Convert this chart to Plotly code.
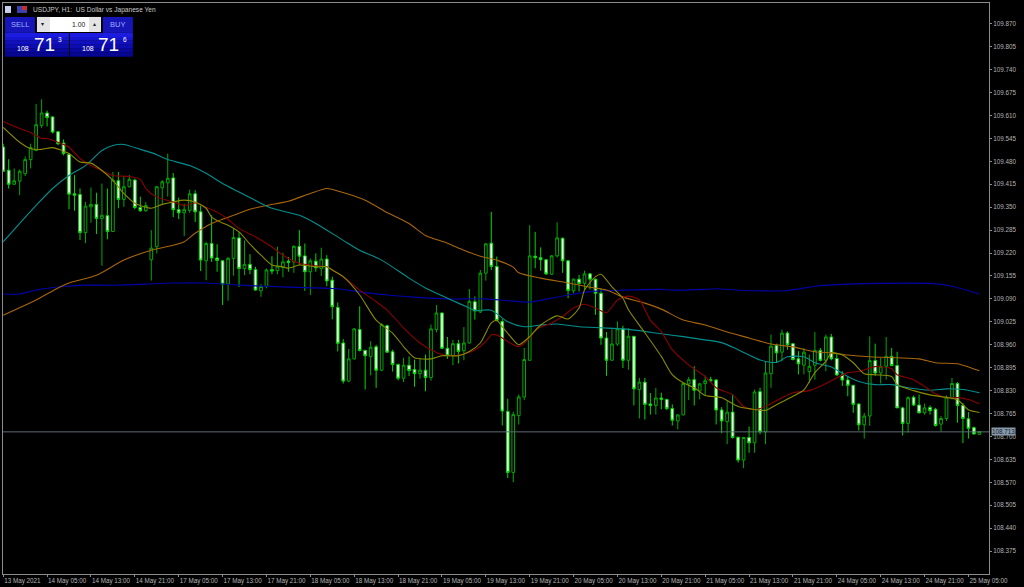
import plotly.graph_objects as go

opens = [
109.521,109.455,109.415,109.424,109.445,109.485,109.511,109.582,109.617,109.606,109.564,109.532,109.500,109.388,109.386,109.278,
109.351,109.358,109.318,109.326,109.281,109.425,109.372,109.408,109.427,109.349,109.340,109.201,109.238,109.405,109.419,
109.433,109.343,109.334,109.341,109.388,109.337,109.198,109.247,109.206,109.198,109.132,109.205,109.263,109.176,109.188,109.173,
109.113,109.125,109.173,109.170,109.179,109.197,109.195,109.239,109.212,109.167,109.197,109.176,109.203,109.143,109.066,
108.965,108.857,108.920,109.003,108.944,108.927,108.954,108.888,109.014,108.940,108.904,108.865,108.902,108.890,108.878,108.888,
108.867,109.003,109.050,108.950,108.929,108.963,108.943,108.965,109.082,109.053,109.163,109.248,109.182,109.026,108.771,
108.598,108.759,108.812,108.916,109.211,109.207,109.201,109.160,109.212,109.262,109.198,109.113,109.146,109.134,109.161,109.146,
109.106,108.979,108.916,108.962,109.005,108.916,108.984,108.833,108.854,108.792,108.788,
108.809,108.805,108.779,108.744,108.761,108.849,108.861,108.829,108.850,108.861,108.860,108.775,108.742,108.769,108.698,108.633,
108.697,108.682,108.827,108.713,108.878,108.958,108.939,108.993,108.963,108.920,108.902,108.884,108.902,108.944,108.916,
108.982,108.921,108.874,108.860,108.845,108.792,108.733,108.758,108.915,108.880,108.899,108.927,108.901,108.781,108.737,108.811,
108.789,108.767,108.782,108.777,108.735,108.751,108.810,108.850,108.788,108.750,108.725,108.706]

closes = [
109.452,109.415,109.425,109.452,109.485,109.519,109.584,109.617,109.604,109.563,109.530,109.502,109.387,109.384,109.278,109.353,
109.358,109.318,109.327,109.281,109.427,109.372,109.408,109.429,109.349,109.340,109.355,109.234,109.408,109.422,109.432,
109.343,109.334,109.343,109.388,109.337,109.200,109.247,109.206,109.199,109.132,109.205,109.264,109.176,109.188,109.173,109.115,
109.125,109.172,109.169,109.183,109.195,109.193,109.239,109.211,109.167,109.198,109.178,109.203,109.141,109.068,108.964,
108.857,108.920,109.005,108.944,108.929,108.953,108.888,109.017,108.939,108.904,108.865,108.902,108.887,108.878,108.888,108.867,
109.005,109.050,108.950,108.929,108.963,108.941,108.965,109.083,109.056,109.163,109.246,109.182,109.029,108.772,108.598,
108.762,108.812,108.918,109.212,109.207,109.201,109.161,109.212,109.263,109.198,109.114,109.146,109.134,109.161,109.146,109.106,
108.979,108.916,108.962,109.005,108.916,108.984,108.835,108.854,108.791,108.788,108.809,
108.805,108.779,108.746,108.761,108.850,108.861,108.831,108.849,108.858,108.858,108.775,108.744,108.769,108.697,108.633,108.697,
108.682,108.826,108.713,108.880,108.956,108.937,108.993,108.960,108.918,108.906,108.939,108.899,108.944,108.916,108.982,
108.920,108.874,108.860,108.845,108.791,108.733,108.758,108.915,108.880,108.899,108.927,108.901,108.781,108.737,108.810,108.789,
108.767,108.781,108.773,108.731,108.751,108.811,108.850,108.788,108.751,108.723,108.707,108.714]

highs = [
109.530,109.486,109.460,109.457,109.494,109.530,109.643,109.656,109.624,109.608,109.566,109.542,109.502,109.441,109.403,109.365,
109.406,109.391,109.417,109.403,109.450,109.450,109.438,109.441,109.431,109.380,109.365,109.285,109.410,109.427,109.502,
109.447,109.377,109.360,109.400,109.398,109.355,109.252,109.327,109.245,109.200,109.209,109.289,109.280,109.256,109.217,109.181,
109.132,109.176,109.211,109.238,109.221,109.209,109.242,109.285,109.247,109.205,109.219,109.235,109.214,109.153,109.080,
108.976,108.948,109.007,109.069,108.946,108.970,108.960,109.021,109.017,108.946,108.907,108.923,108.927,108.918,108.923,108.932,
109.017,109.073,109.052,108.982,108.974,108.974,109.010,109.118,109.097,109.172,109.249,109.337,109.210,109.033,108.807,
108.770,108.819,108.951,109.299,109.280,109.236,109.202,109.214,109.307,109.264,109.200,109.148,109.158,109.170,109.164,109.147,
109.120,108.996,109.004,109.026,109.014,109.007,108.985,108.866,108.866,108.823,108.838,
108.824,108.807,108.791,108.763,108.852,108.869,108.899,108.852,108.873,108.869,108.863,108.783,108.800,108.819,108.699,108.699,
108.728,108.833,108.838,108.913,108.989,108.963,109.003,108.998,108.965,108.942,108.951,108.932,108.996,108.951,108.989,
108.991,108.937,108.885,108.871,108.845,108.794,108.767,108.984,108.963,108.923,108.982,108.951,108.940,108.784,108.814,108.816,
108.819,108.793,108.788,108.781,108.758,108.816,108.866,108.854,108.795,108.769,108.728,108.715]

lows = [
109.450,109.403,109.414,109.384,109.438,109.460,109.509,109.575,109.579,109.559,109.526,109.497,109.344,109.340,109.257,109.248,
109.306,109.274,109.184,109.259,109.281,109.347,109.351,109.406,109.344,109.337,109.337,109.142,109.219,109.359,109.380,
109.322,109.316,109.268,109.334,109.308,109.169,109.143,109.195,109.167,109.073,109.085,109.156,109.124,109.157,109.160,109.113,
109.096,109.120,109.160,109.160,109.151,109.167,109.164,109.186,109.113,109.101,109.167,109.155,109.126,109.032,108.941,
108.850,108.854,108.918,108.941,108.833,108.873,108.838,108.885,108.937,108.884,108.859,108.854,108.871,108.841,108.864,108.828,
108.858,108.995,108.948,108.920,108.902,108.907,108.916,108.963,109.031,109.050,109.142,109.172,109.026,108.731,108.582,
108.570,108.734,108.803,108.916,109.177,109.170,109.158,109.158,109.207,109.164,109.092,109.106,109.111,109.115,109.117,109.045,
108.960,108.872,108.916,108.957,108.894,108.889,108.788,108.751,108.748,108.762,108.762,
108.777,108.775,108.731,108.720,108.760,108.803,108.788,108.805,108.816,108.854,108.734,108.709,108.678,108.694,108.626,108.610,
108.654,108.654,108.706,108.678,108.838,108.909,108.913,108.946,108.916,108.876,108.876,108.852,108.861,108.913,108.885,
108.916,108.873,108.843,108.814,108.767,108.717,108.694,108.730,108.871,108.850,108.861,108.899,108.781,108.703,108.711,108.786,
108.765,108.762,108.762,108.728,108.714,108.744,108.805,108.739,108.681,108.694,108.705,108.704]

olive_bars = [0,3,5,7,9,12,14,16,18,20,22,24,27,29,31,33,35,37,38,40,41,43,45,47,49,51,52,54,57,59,60,62,65,68,71,73,75,78,80,83,85,87,89,90,91,93,94,96,98,101,103,105,106,108,109,111,113,114,117,120,122,124,126,128,131,134,136,139,141,144,146,148,150,151,153,155,157,159,162,163,166,169,171,174,176,178]
olive_vals = [109.576,109.534,109.516,109.514,109.519,109.502,109.478,109.475,109.454,109.426,109.389,109.361,109.347,109.358,109.365,109.370,109.365,109.347,109.322,109.305,109.299,109.280,109.245,109.214,109.186,109.181,109.177,109.186,109.181,109.181,109.172,109.153,109.101,109.030,108.993,108.955,108.923,108.920,108.929,108.929,108.941,108.965,109.022,109.029,109.011,108.974,108.960,108.983,109.016,109.042,109.033,109.064,109.115,109.153,109.160,109.124,109.092,109.059,108.994,108.927,108.875,108.852,108.838,108.816,108.810,108.785,108.779,108.774,108.790,108.814,108.832,108.881,108.913,108.937,108.931,108.909,108.878,108.875,108.870,108.847,108.830,108.818,108.813,108.804,108.776,108.768]

red_bars = [0,3,5,7,8,10,12,14,16,18,20,23,25,26,28,31,33,35,37,39,41,43,46,49,51,54,57,59,60,62,65,68,70,73,76,79,81,84,86,88,89,90,92,94,96,97,100,102,104,106,108,110,112,114,116,118,120,122,125,128,130,133,135,137,139,142,144,147,149,151,154,156,159,162,163,166,168,170,172,174,176,178]
red_vals = [109.593,109.573,109.562,109.545,109.545,109.534,109.520,109.488,109.468,109.454,109.440,109.437,109.429,109.403,109.379,109.365,109.355,109.362,109.350,109.336,109.316,109.290,109.266,109.237,109.214,109.191,109.184,109.181,109.172,109.153,109.115,109.082,109.058,109.008,108.965,108.938,108.929,108.934,108.945,108.969,108.988,108.988,108.969,108.955,108.979,109.002,109.022,109.040,109.064,109.075,109.064,109.051,109.087,109.098,109.087,109.030,108.997,108.946,108.903,108.870,108.838,108.818,108.785,108.776,108.785,108.810,108.824,108.830,108.842,108.858,108.881,108.884,108.898,108.892,108.875,108.861,108.842,108.821,108.810,108.810,108.805,108.793]

cyan_bars = [0,3,6,9,12,15,18,20,22,25,28,30,34,37,40,43,46,49,54,57,62,65,69,74,77,81,85,86,89,92,95,98,101,105,109,113,116,120,124,127,131,134,138,141,143,146,148,151,154,156,159,162,165,169,172,175,178]
cyan_vals = [109.252,109.304,109.355,109.403,109.440,109.468,109.511,109.525,109.528,109.514,109.499,109.485,109.468,109.446,109.417,109.393,109.369,109.347,109.327,109.304,109.256,109.228,109.200,109.149,109.121,109.092,109.064,109.057,109.058,109.025,109.011,109.016,109.019,109.011,109.008,109.005,109.000,108.991,108.983,108.976,108.966,108.946,108.917,108.910,108.926,108.926,108.909,108.897,108.870,108.856,108.847,108.847,108.838,108.831,108.835,108.833,108.824]

orange_bars = [0,6,10,12,17,22,27,31,33,35,38,42,45,48,52,56,59,61,66,70,74,77,81,84,87,90,93,94,98,103,107,110,113,117,120,124,128,132,136,140,144,148,151,154,158,163,167,170,174,176,178]
orange_vals = [109.044,109.087,109.121,109.135,109.157,109.200,109.228,109.242,109.252,109.276,109.304,109.327,109.344,109.355,109.367,109.389,109.403,109.396,109.370,109.335,109.304,109.270,109.248,109.228,109.211,109.200,109.180,109.164,109.149,109.135,109.123,109.115,109.095,109.078,109.061,109.030,109.016,108.996,108.979,108.962,108.954,108.940,108.937,108.931,108.926,108.923,108.920,108.909,108.906,108.897,108.886]

blue_bars = [0,3,6,11,15,21,26,31,37,43,49,55,61,65,70,75,81,88,92,96,100,103,108,113,120,122,128,130,135,143,148,154,159,169,173,178]
blue_vals = [109.104,109.104,109.115,109.125,109.129,109.129,109.132,109.135,109.135,109.129,109.125,109.122,109.119,109.110,109.101,109.095,109.090,109.090,109.085,109.081,109.092,109.101,109.112,109.115,109.117,109.115,109.117,109.119,109.114,109.114,109.126,109.132,109.134,109.134,109.126,109.104]

price_ticks = ["109.870","109.805","109.740","109.675","109.610","109.545","109.480","109.415","109.350","109.285","109.220","109.155","109.090","109.025","108.960","108.895","108.830","108.765","108.700","108.635","108.570","108.505","108.440","108.375"]
time_labels = ["13 May 2021","14 May 05:00","14 May 13:00","14 May 21:00","17 May 05:00","17 May 13:00","17 May 21:00","18 May 05:00","18 May 13:00","18 May 21:00","19 May 05:00","19 May 13:00","19 May 21:00","20 May 05:00","20 May 13:00","20 May 21:00","21 May 05:00","21 May 13:00","21 May 21:00","24 May 05:00","24 May 13:00","24 May 21:00","25 May 05:00"]
bid_price = 108.713

W, H = 1024, 587
ML, MR, MT, MB = 2, 35, 2, 12
PW, PH = W - ML - MR, H - MT - MB
def px(v):
    return (v - ML) / PW
def py(v):
    return 1 - (v - MT) / PH

FONT = "Liberation Sans"
GREY = "#b4b4b4"

fig = go.Figure()
fig.add_trace(go.Candlestick(
    x=list(range(len(opens))), open=opens, high=highs, low=lows, close=closes,
    increasing=dict(line=dict(color="#00a800", width=1), fillcolor="#000000"),
    decreasing=dict(line=dict(color="#00d800", width=1), fillcolor="#ffffff"),
    hoverinfo="skip", showlegend=False,
))
for bars, vals, col in [
    (blue_bars, blue_vals, "#0000a8"),
    (orange_bars, orange_vals, "#a8660c"),
    (cyan_bars, cyan_vals, "#008f8f"),
    (red_bars, red_vals, "#8b0000"),
    (olive_bars, olive_vals, "#8a8a00"),
]:
    fig.add_trace(go.Scatter(x=bars, y=vals, mode="lines",
                             line=dict(color=col, width=1.1, shape="spline", smoothing=0.7),
                             hoverinfo="skip", showlegend=False))

shapes = [
    dict(type="line", xref="paper", yref="y", x0=0, x1=1, y0=bid_price, y1=bid_price,
         line=dict(color="#5f6b76", width=1), layer="above"),
]
def rect(x0, y0, x1, y1, fill):
    shapes.append(dict(type="rect", xref="paper", yref="paper",
                       x0=px(x0), x1=px(x1), y0=py(y0), y1=py(y1),
                       fillcolor=fill, line=dict(width=0), layer="above"))

# trade panel
for x0, x1 in [(4, 34), (102, 132)]:
    rect(x0, 16, x1, 32, "#1515b8")
for x0, x1 in [(4, 68), (69, 132)]:
    for k, c in enumerate(["#1c1ce0", "#1616d0", "#1010c0", "#0c0cb0", "#0808a0", "#060690"]):
        rect(x0, 32 + k * 4, x1, 36 + k * 4, c)
rect(36, 16, 100, 31, "#ffffff")
rect(36, 16, 49, 31, "#e4e4e4")
rect(88, 16, 100, 31, "#e4e4e4")
rect(4, 5, 10, 12, "#c8d0f0")
rect(16, 5, 26, 12, "#4040b0")
rect(21, 5, 26, 9, "#c03030")

annots = [
    dict(x=30, y=9, text="USDJPY, H1:  US Dollar vs Japanese Yen", color="#c8c8c8", size=6.6, anchor="left"),
    dict(x=19, y=24, text="SELL", color="#9fb0ff", size=7.5, anchor="center"),
    dict(x=117, y=24, text="BUY", color="#9fb0ff", size=7.5, anchor="center"),
    dict(x=86, y=23.5, text="1.00", color="#202020", size=6.8, anchor="right"),
    dict(x=42, y=23, text="▾", color="#202020", size=6, anchor="center"),
    dict(x=94, y=23, text="▴", color="#202020", size=6, anchor="center"),
    dict(x=22, y=48, text="108", color="#ffffff", size=7, anchor="center"),
    dict(x=44, y=44, text="71", color="#ffffff", size=19, anchor="center"),
    dict(x=59, y=39, text="3", color="#ffffff", size=6.5, anchor="center"),
    dict(x=87, y=48, text="108", color="#ffffff", size=7, anchor="center"),
    dict(x=108, y=44, text="71", color="#ffffff", size=19, anchor="center"),
    dict(x=124, y=39, text="6", color="#ffffff", size=6.5, anchor="center"),
]
annotations = [dict(xref="paper", yref="paper", x=px(a["x"]), y=py(a["y"]), text=a["text"],
                    showarrow=False, xanchor=a["anchor"], yanchor="middle",
                    font=dict(family=FONT, size=a["size"], color=a["color"])) for a in annots]
annotations.append(dict(xref="paper", yref="y", x=1.002, y=bid_price, text="108.713", showarrow=False,
                        xanchor="left", yanchor="middle", bgcolor="#8899aa", borderpad=0,
                        font=dict(family=FONT, size=6.3, color="#10202c")))

axis_line = dict(showline=True, linecolor="#8c8c8c", linewidth=1, mirror=True, showgrid=False,
                 zeroline=False, ticks="outside", tickcolor="#8c8c8c", ticklen=2, tickwidth=1)
fig.update_layout(
    width=W, height=H, autosize=False,
    margin=dict(l=ML, r=MR, t=MT, b=MB, pad=0),
    paper_bgcolor="#000000", plot_bgcolor="#000000",
    showlegend=False, dragmode=False,
    shapes=shapes, annotations=annotations,
    xaxis=dict(range=[-0.04, 179.75], tickmode="array", tickvals=[k * 8 for k in range(len(time_labels))],
               ticktext=time_labels, tickangle=0, ticklabelposition="outside right",
               tickfont=dict(family=FONT, size=6.3, color=GREY),
               rangeslider=dict(visible=False), **axis_line),
    yaxis=dict(range=[108.310, 109.929], side="right", tickmode="array",
               tickvals=[float(t) for t in price_ticks], ticktext=price_ticks,
               tickfont=dict(family=FONT, size=6.3, color=GREY), **axis_line),
)
fig.write_html("out.html", config=dict(displayModeBar=False),
               post_script="document.body.style.margin='0';document.body.style.background='#000';document.documentElement.style.overflow='hidden';")
